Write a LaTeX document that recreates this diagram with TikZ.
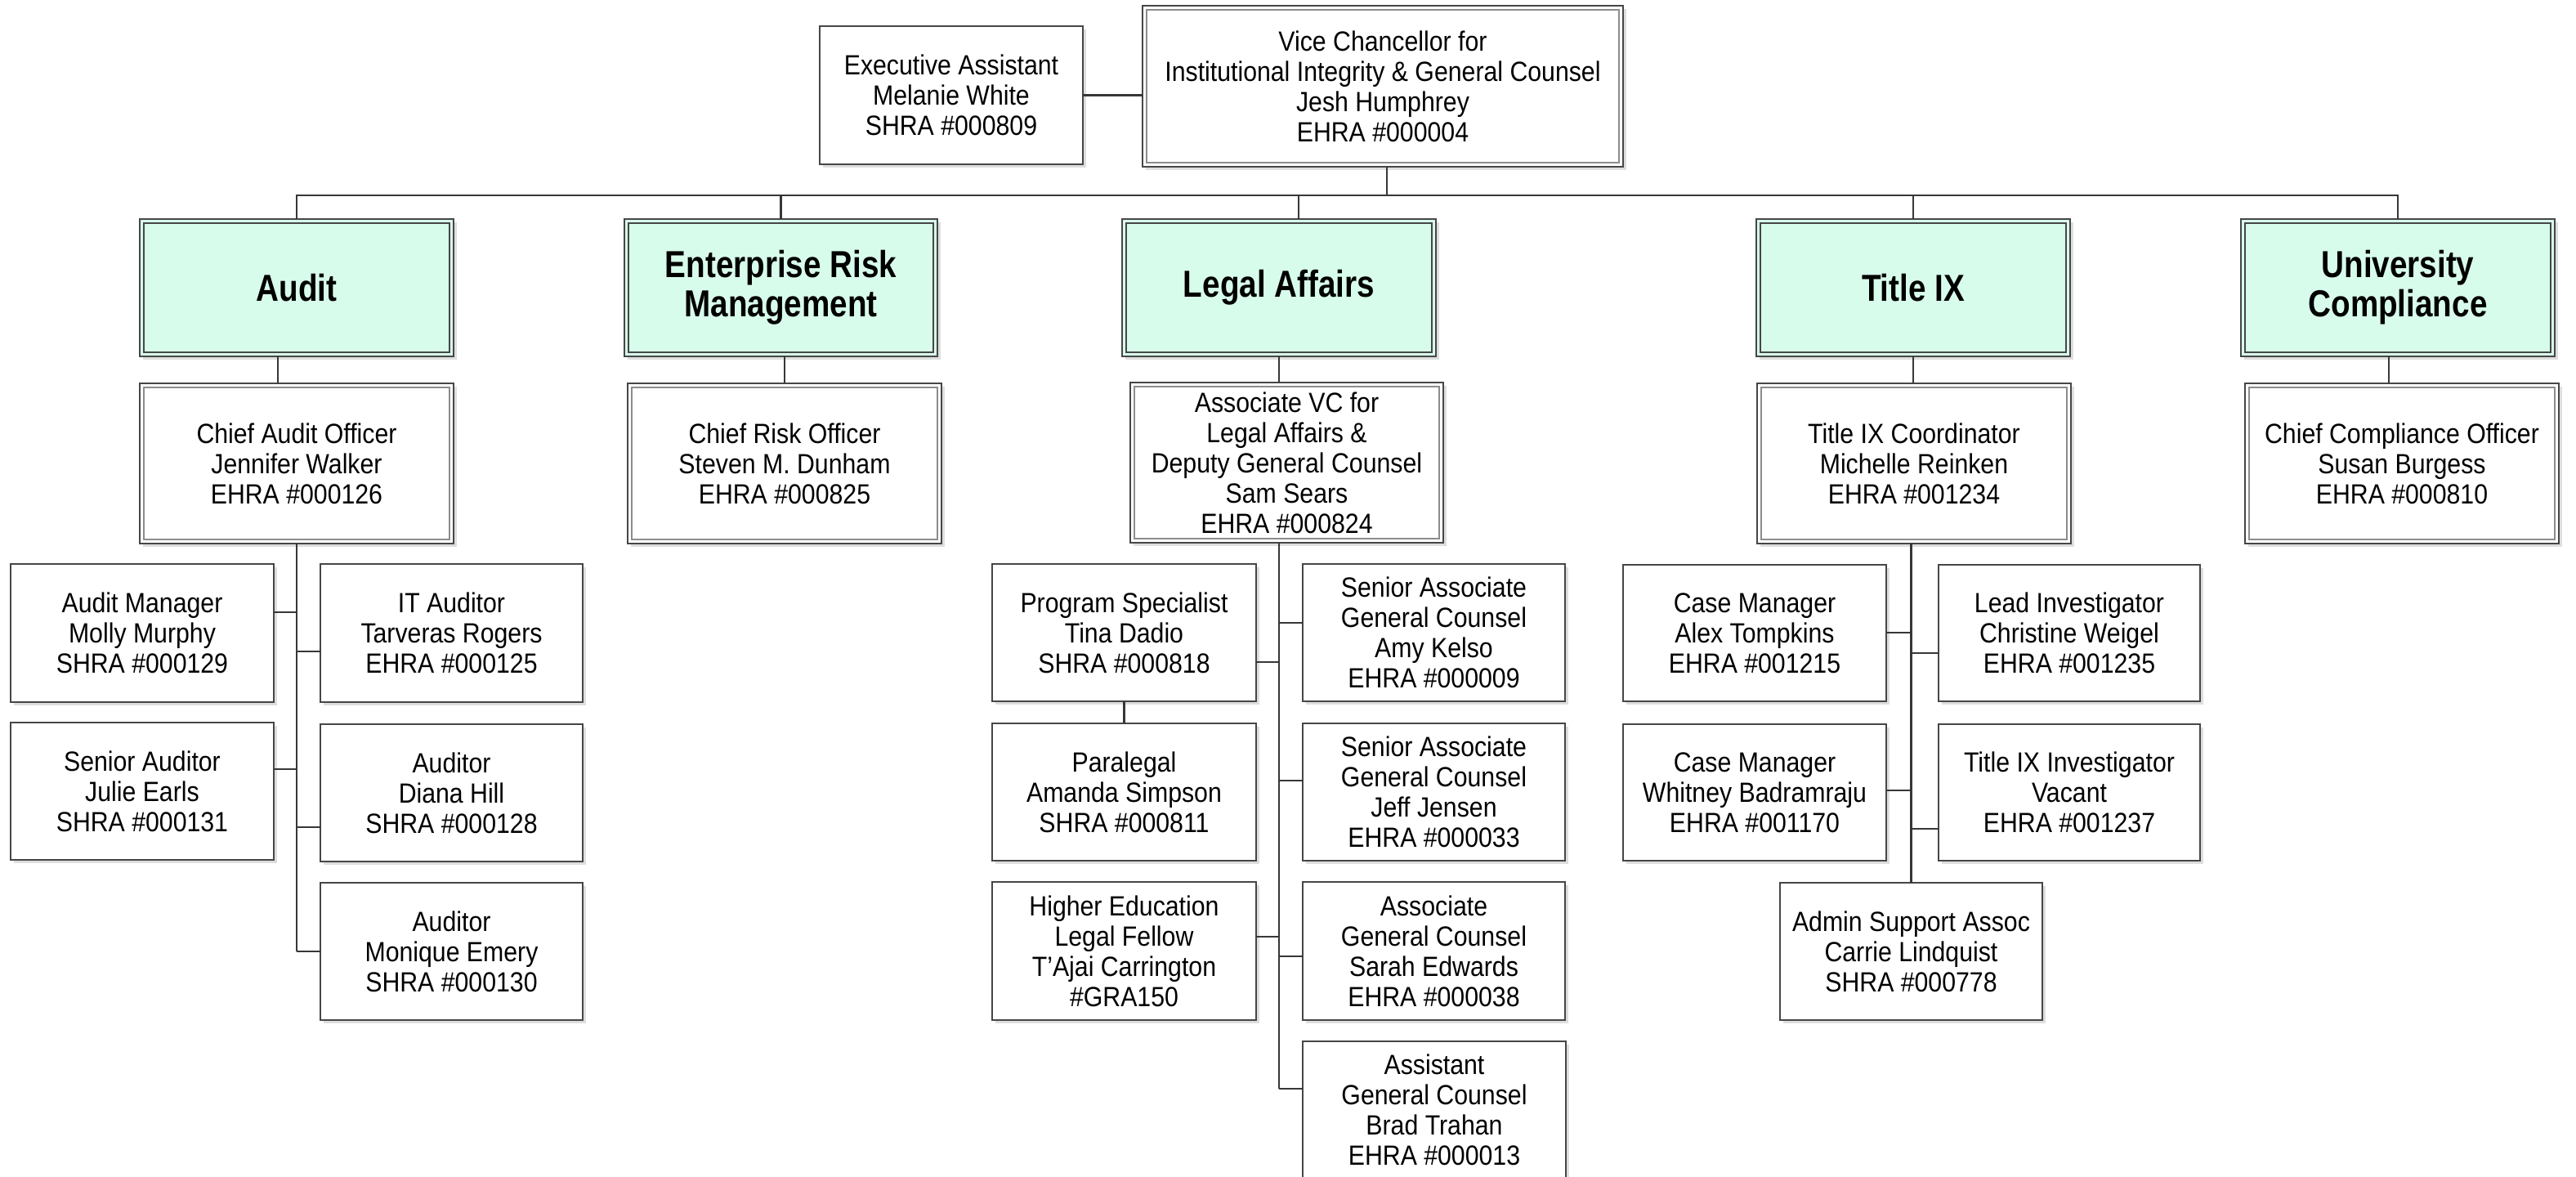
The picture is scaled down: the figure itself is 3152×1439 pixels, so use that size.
\documentclass[tikz,border=0pt]{standalone}
\usepackage{fontspec}
\setmainfont{Liberation Sans}[FakeStretch=0.89]
\newfontfamily\grpfont{Liberation Sans}[FakeStretch=0.84]
\definecolor{mint}{RGB}{216,252,235}
\definecolor{bord}{RGB}{70,70,70}
\definecolor{innerg}{RGB}{140,140,140}
\definecolor{connc}{RGB}{55,55,55}
\definecolor{shad}{RGB}{222,222,222}
\tikzset{
  base/.style={rectangle, draw=bord, line width=0.35pt, inner sep=0pt, outer sep=0pt, align=center, text=black},
  pers/.style={base, fill=white, font=\fontsize{8.5pt}{9.25pt}\selectfont},
  grp/.style={base, fill=mint, font=\grpfont\bfseries\fontsize{11.5pt}{12pt}\selectfont},
  conn/.style={draw=connc, line width=0.6pt},
  innerw/.style={draw=innerg, line width=0.35pt},
  innerd/.style={draw=bord, line width=0.35pt},
}
\newcommand\orgbox[7]{%
  \fill[shad] (#2+4,#3+4) rectangle (#4+4,#5+4);
  \node[#6, minimum width={(#4-#2)*0.25pt}, minimum height={(#5-#3)*0.25pt}] (#1) at ({(#2+#4)/2},{(#3+#5)/2}) {#7};}
\newcommand\dblin[2]{\draw[#2] ([shift={(1.25pt,-1.25pt)}]#1.north west) rectangle ([shift={(-1.25pt,1.25pt)}]#1.south east);}
\begin{document}
\begin{tikzpicture}[x=0.25pt,y=-0.25pt]
\fill[white] (0,0) rectangle (3152,1439);
\useasboundingbox (0,0) rectangle (3152,1439);

% top
\orgbox{exec}{1003}{32}{1325}{201}{pers}{Executive Assistant\\Melanie White\\SHRA \#000809}
\orgbox{vc}{1398}{7}{1986}{204}{pers}{Vice Chancellor for\\Institutional Integrity \& General Counsel\\Jesh Humphrey\\EHRA \#000004}
\dblin{vc}{innerw}

% groups
\orgbox{gAudit}{171}{268}{555}{436}{grp}{Audit}\dblin{gAudit}{innerd}
\orgbox{gERM}{764}{268}{1147}{436}{grp}{Enterprise Risk\\Management}\dblin{gERM}{innerd}
\orgbox{gLegal}{1373}{268}{1757}{436}{grp}{Legal Affairs}\dblin{gLegal}{innerd}
\orgbox{gTIX}{2149}{268}{2533}{436}{grp}{Title IX}\dblin{gTIX}{innerd}
\orgbox{gUC}{2742}{268}{3126}{436}{grp}{University\\Compliance}\dblin{gUC}{innerd}

% chiefs
\orgbox{cAudit}{171}{469}{555}{665}{pers}{Chief Audit Officer\\Jennifer Walker\\EHRA \#000126}\dblin{cAudit}{innerw}
\orgbox{cRisk}{768}{469}{1152}{665}{pers}{Chief Risk Officer\\Steven M. Dunham\\EHRA \#000825}\dblin{cRisk}{innerw}
\orgbox{cLegal}{1383}{468}{1766}{664}{pers}{Associate VC for\\Legal Affairs \&\\Deputy General Counsel\\Sam Sears\\EHRA \#000824}\dblin{cLegal}{innerw}
\orgbox{cTIX}{2150}{469}{2534}{665}{pers}{Title IX Coordinator\\Michelle Reinken\\EHRA \#001234}\dblin{cTIX}{innerw}
\orgbox{cUC}{2747}{469}{3131}{665}{pers}{Chief Compliance Officer\\Susan Burgess\\EHRA \#000810}\dblin{cUC}{innerw}

% audit staff
\orgbox{am}{13}{690}{335}{859}{pers}{Audit Manager\\Molly Murphy\\SHRA \#000129}
\orgbox{it}{392}{690}{713}{859}{pers}{IT Auditor\\Tarveras Rogers\\EHRA \#000125}
\orgbox{sa}{13}{884}{335}{1052}{pers}{Senior Auditor\\Julie Earls\\SHRA \#000131}
\orgbox{dh}{392}{886}{713}{1054}{pers}{Auditor\\Diana Hill\\SHRA \#000128}
\orgbox{me}{392}{1080}{713}{1248}{pers}{Auditor\\Monique Emery\\SHRA \#000130}

% legal staff
\orgbox{ps}{1214}{690}{1537}{858}{pers}{Program Specialist\\Tina Dadio\\SHRA \#000818}
\orgbox{amy}{1594}{690}{1915}{858}{pers}{Senior Associate\\General Counsel\\Amy Kelso\\EHRA \#000009}
\orgbox{para}{1214}{885}{1537}{1053}{pers}{Paralegal\\Amanda Simpson\\SHRA \#000811}
\orgbox{jeff}{1594}{885}{1915}{1053}{pers}{Senior Associate\\General Counsel\\Jeff Jensen\\EHRA \#000033}
\orgbox{he}{1214}{1079}{1537}{1248}{pers}{Higher Education\\Legal Fellow\\T’Ajai Carrington\\\#GRA150}
\orgbox{sarah}{1594}{1079}{1915}{1248}{pers}{Associate\\General Counsel\\Sarah Edwards\\EHRA \#000038}
\orgbox{brad}{1594}{1274}{1916}{1442}{pers}{Assistant\\General Counsel\\Brad Trahan\\EHRA \#000013}

% title IX staff
\orgbox{alex}{1986}{691}{2308}{858}{pers}{Case Manager\\Alex Tompkins\\EHRA \#001215}
\orgbox{lead}{2372}{691}{2692}{858}{pers}{Lead Investigator\\Christine Weigel\\EHRA \#001235}
\orgbox{whit}{1986}{886}{2308}{1053}{pers}{Case Manager\\Whitney Badramraju\\EHRA \#001170}
\orgbox{tinv}{2372}{886}{2692}{1053}{pers}{Title IX Investigator\\Vacant\\EHRA \#001237}
\orgbox{admin}{2178}{1080}{2499}{1248}{pers}{Admin Support Assoc\\Carrie Lindquist\\SHRA \#000778}

% connectors: top
\coordinate (busL) at (363,239);
\draw[conn] (exec.east) -- (exec.east -| vc.west);
\draw[conn] ([xshift=1.25pt]vc.south) -- ([xshift=1.25pt]vc.south |- busL);
\draw[conn] (gAudit.north) -- (gAudit.north |- busL) -- (gUC.north |- busL) -- (gUC.north);
\draw[conn] (gERM.north |- busL) -- (gERM.north);
\draw[conn] ([xshift=6pt]gLegal.north |- busL) -- ([xshift=6pt]gLegal.north);
\draw[conn] (gTIX.north |- busL) -- (gTIX.north);

% group -> chief
\draw[conn] ([xshift=-5.75pt]gAudit.south) -- ([xshift=-5.75pt]gAudit.south |- cAudit.north);
\draw[conn] (cRisk.north |- gERM.south) -- (cRisk.north);
\draw[conn] (gLegal.south) -- (gLegal.south |- cLegal.north);
\draw[conn] (gTIX.south) -- (gTIX.south |- cTIX.north);
\draw[conn] ([xshift=-2.75pt]gUC.south) -- ([xshift=-2.75pt]gUC.south |- cUC.north);

% audit trunk
\coordinate (tA) at (cAudit.south);
\draw[conn] (tA) -- (tA |- 0,1164);
\draw[conn] (am.east |- 0,749) -- (tA |- 0,749);
\draw[conn] (it.west |- 0,797) -- (tA |- 0,797);
\draw[conn] (sa.east |- 0,941) -- (tA |- 0,941);
\draw[conn] (dh.west |- 0,1012) -- (tA |- 0,1012);
\draw[conn] (me.west |- 0,1164) -- (tA |- 0,1164);

% legal trunk
\path (cLegal.south) ++(-9.5,0) coordinate (tL);
\draw[conn] (tL) -- (tL |- 0,1332);
\draw[conn] (ps.east |- 0,810) -- (tL |- 0,810);
\draw[conn] (amy.west |- 0,762) -- (tL |- 0,762);
\draw[conn] (jeff.west |- 0,955) -- (tL |- 0,955);
\draw[conn] (he.east |- 0,1146) -- (tL |- 0,1146);
\draw[conn] (sarah.west |- 0,1170) -- (tL |- 0,1170);
\draw[conn] (brad.west |- 0,1332) -- (tL |- 0,1332);
\draw[conn] (ps.south) -- (para.north);

% title IX trunk
\coordinate (tT) at (cTIX.south -| admin.north);
\draw[conn] (tT) -- (admin.north);
\draw[conn] (alex.east |- 0,774) -- (tT |- 0,774);
\draw[conn] (lead.west |- 0,799) -- (tT |- 0,799);
\draw[conn] (whit.east |- 0,967) -- (tT |- 0,967);
\draw[conn] (tinv.west |- 0,1014) -- (tT |- 0,1014);
\end{tikzpicture}
\end{document}
